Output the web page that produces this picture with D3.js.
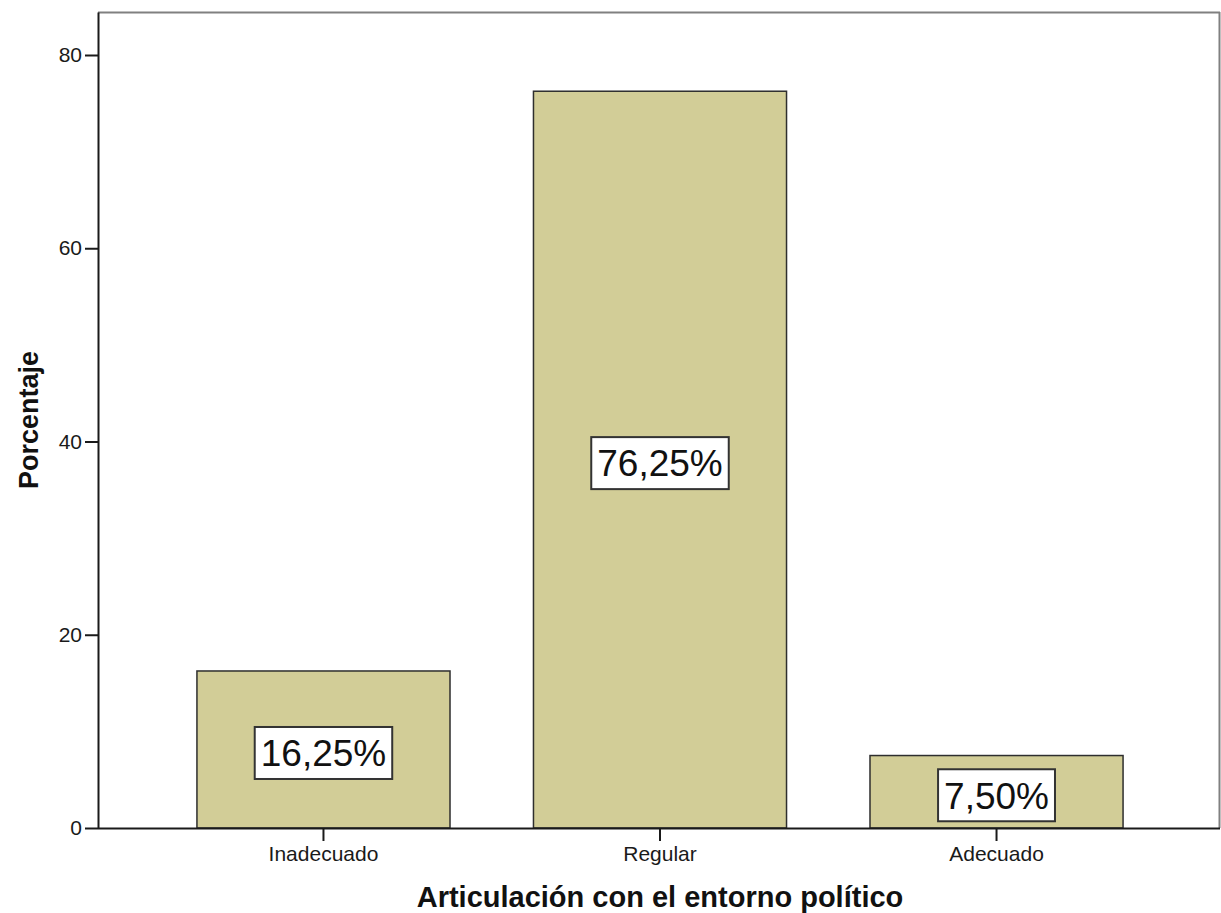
<!DOCTYPE html>
<html>
<head>
<meta charset="utf-8">
<script src="https://cdn.jsdelivr.net/npm/d3@7"></script>
<style>
  html, body { margin: 0; padding: 0; background: #fff; }
  svg { display: block; font-family: "Liberation Sans", Arial, sans-serif; }
</style>
</head>
<body>
<svg id="chart" width="1221" height="913"></svg>
<script>
// Distribution of responses, in percent
const categories = ["Inadecuado", "Regular", "Adecuado"];
const percentages = [16.25, 76.25, 7.50];
const yTicks = [0, 20, 40, 60, 80];
const yAxisMax = 84.45;
const xTitle = "Articulación con el entorno político";
const yTitle = "Porcentaje";

const svg = d3.select("#chart");
const margin = { left: 98, top: 12, right: 1, bottom: 85 };
const W = 1221, H = 913;
const innerW = W - margin.left - margin.right;   // frame width
const innerH = H - margin.top - margin.bottom;

const g = svg.append("g").attr("transform", `translate(${margin.left},${margin.top})`);

const x = d3.scaleBand()
  .domain(categories)
  .range([0, innerW + 2])
  .paddingInner(0.248)
  .paddingOuter(0.294);

const y = d3.scaleLinear()
  .domain([0, yAxisMax])
  .range([innerH, 0]);

// Frame: top and right edges in grey
g.append("line")
  .attr("x1", 0).attr("x2", innerW).attr("y1", 0.5).attr("y2", 0.5)
  .attr("stroke", "#808080").attr("stroke-width", 2);
g.append("line")
  .attr("x1", innerW - 0.5).attr("x2", innerW - 0.5).attr("y1", 0).attr("y2", innerH)
  .attr("stroke", "#808080").attr("stroke-width", 2);

// Bars
const fmt = v => v.toFixed(2).replace(".", ",") + "%";
const data = categories.map((c, i) => ({ cat: c, val: percentages[i] }));

g.selectAll("rect.bar")
  .data(data)
  .join("rect")
  .attr("class", "bar")
  .attr("x", d => x(d.cat))
  .attr("y", d => y(d.val))
  .attr("width", x.bandwidth())
  .attr("height", d => y(0) - y(d.val))
  .attr("fill", "#d2cd97")
  .attr("stroke", "#2e2e2e")
  .attr("stroke-width", 1.5);

// Y axis
const yAxis = g.append("g")
  .call(d3.axisLeft(y).tickValues(yTicks).tickSize(13).tickSizeOuter(0).tickPadding(3).tickFormat(d3.format("d")));
yAxis.select(".domain").attr("stroke", "#1a1a1a").attr("stroke-width", 2);
yAxis.selectAll(".tick line").attr("stroke", "#1a1a1a").attr("stroke-width", 2);
yAxis.selectAll(".tick text")
  .attr("font-size", 21).attr("fill", "#1a1a1a")
  .attr("font-family", "'Liberation Sans', Arial, sans-serif");

// X axis
const xAxis = g.append("g")
  .attr("transform", `translate(0,${innerH})`)
  .call(d3.axisBottom(x).tickSize(13).tickPadding(5).tickSizeOuter(0));
xAxis.select(".domain").attr("stroke", "#1a1a1a").attr("stroke-width", 2)
  .attr("d", `M0,0.5H${innerW}`);
xAxis.selectAll(".tick line").attr("stroke", "#1a1a1a").attr("stroke-width", 2);
xAxis.selectAll(".tick text")
  .attr("font-size", 21).attr("fill", "#1a1a1a")
  .attr("font-family", "'Liberation Sans', Arial, sans-serif");

// Value labels in boxes at the middle of each bar
const labels = g.selectAll("g.vlabel")
  .data(data)
  .join("g")
  .attr("class", "vlabel")
  .attr("transform", d => `translate(${x(d.cat) + x.bandwidth() / 2},${(y(d.val) + y(0)) / 2 + 3.5})`);

labels.append("rect").attr("class", "box");
labels.append("text")
  .attr("text-anchor", "middle")
  .attr("dy", "0.36em")
  .attr("font-size", 37)
  .attr("fill", "#111")
  .text(d => fmt(d.val));

labels.each(function () {
  const sel = d3.select(this);
  const bb = sel.select("text").node().getBBox();
  const w = bb.width + 12, h = 52;
  sel.select("rect.box")
    .attr("x", -w / 2).attr("y", -h / 2)
    .attr("width", w).attr("height", h)
    .attr("fill", "#fff")
    .attr("stroke", "#333")
    .attr("stroke-width", 2);
});

// Axis titles
svg.append("text")
  .attr("x", margin.left + (x("Regular") + x.bandwidth() / 2))
  .attr("y", 907)
  .attr("text-anchor", "middle")
  .attr("font-size", 29)
  .attr("font-weight", "bold")
  .attr("fill", "#111")
  .text(xTitle);

svg.append("text")
  .attr("transform", `translate(38,${margin.top + innerH / 2}) rotate(-90)`)
  .attr("text-anchor", "middle")
  .attr("font-size", 27)
  .attr("font-weight", "bold")
  .attr("fill", "#111")
  .text(yTitle);
</script>
</body>
</html>
